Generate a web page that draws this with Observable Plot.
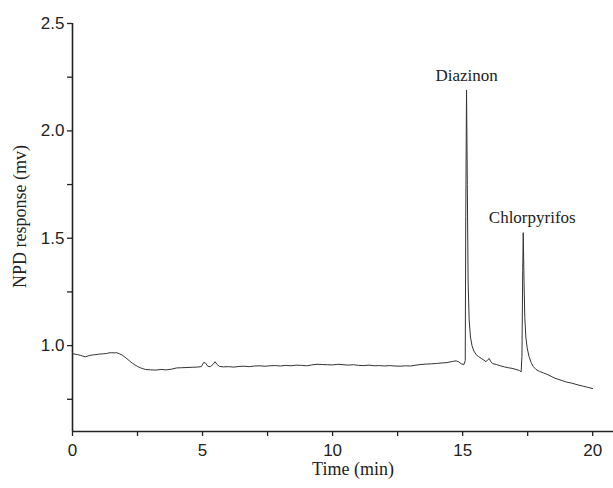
<!DOCTYPE html>
<html><head><meta charset="utf-8">
<script src="https://cdn.jsdelivr.net/npm/d3@7"></script>
<script src="https://cdn.jsdelivr.net/npm/@observablehq/plot@0.6"></script>
<style>body{margin:0;background:#fff}</style>
</head><body><div id="chart"></div>
<script>
const time = [0.00,0.10,0.20,0.30,0.40,0.50,0.60,0.70,0.80,0.90,1.00,1.10,1.20,1.30,1.40,1.50,1.60,1.70,1.80,1.90,2.00,2.10,2.20,2.30,2.40,2.50,2.60,2.70,2.80,2.90,3.00,3.20,3.40,3.60,3.80,4.00,4.20,4.40,4.60,4.80,4.95,5.05,5.12,5.20,5.30,5.40,5.48,5.56,5.65,5.80,6.00,6.20,6.40,6.60,6.80,7.00,7.20,7.40,7.60,7.80,8.00,8.20,8.40,8.60,8.80,9.00,9.20,9.40,9.60,9.80,10.0,10.2,10.4,10.6,10.8,11.0,11.2,11.4,11.6,11.8,12.0,12.2,12.4,12.6,12.8,13.0,13.2,13.4,13.6,13.8,14.0,14.2,14.4,14.6,14.75,14.85,14.95,15.05,15.10,15.12,15.15,15.18,15.21,15.25,15.30,15.36,15.43,15.52,15.62,15.72,15.82,15.90,15.97,16.02,16.08,16.15,16.30,16.45,16.60,16.75,16.90,17.05,17.18,17.25,17.28,17.31,17.33,17.36,17.39,17.43,17.48,17.55,17.63,17.72,17.82,17.95,18.10,18.25,18.40,18.55,18.70,18.85,19.00,19.20,19.40,19.60,19.80,20.00];
const response = [0.962,0.960,0.958,0.955,0.951,0.948,0.952,0.955,0.957,0.958,0.960,0.961,0.962,0.963,0.966,0.967,0.966,0.967,0.962,0.957,0.948,0.938,0.928,0.918,0.910,0.903,0.897,0.893,0.889,0.888,0.887,0.886,0.889,0.887,0.890,0.896,0.897,0.898,0.899,0.900,0.902,0.922,0.918,0.904,0.902,0.912,0.925,0.912,0.903,0.901,0.902,0.900,0.903,0.904,0.902,0.905,0.906,0.904,0.906,0.907,0.905,0.908,0.906,0.909,0.908,0.906,0.910,0.913,0.912,0.911,0.910,0.913,0.911,0.909,0.911,0.908,0.907,0.909,0.906,0.907,0.905,0.907,0.905,0.904,0.906,0.905,0.909,0.912,0.914,0.915,0.917,0.919,0.921,0.926,0.929,0.924,0.915,0.912,0.930,1.600,2.190,1.750,1.300,1.120,1.040,1.000,0.975,0.958,0.948,0.940,0.932,0.925,0.935,0.940,0.926,0.916,0.912,0.906,0.901,0.897,0.894,0.889,0.884,0.878,0.950,1.350,1.526,1.300,1.130,1.040,0.990,0.950,0.922,0.902,0.889,0.880,0.873,0.866,0.857,0.848,0.842,0.836,0.830,0.825,0.818,0.812,0.806,0.800];

const peakNames = ["Diazinon", "Chlorpyrifos"];
const peakTimes = [15.15, 17.33];
const peakHeights = [2.19, 1.526];

const xTicks = [0, 2.5, 5, 7.5, 10, 12.5, 15, 17.5, 20];
const xLabels = [0, 5, 10, 15, 20];
const yTicks = [0.75, 1.0, 1.25, 1.5, 1.75, 2.0, 2.25, 2.5];
const yLabels = [1.0, 1.5, 2.0, 2.5];
const xTitle = "Time (min)";
const yTitle = "NPD response (mv)";

const data = time.map((t, i) => ({t, v: response[i]}));
const peaks = peakNames.map((n, i) => ({name: n, t: peakTimes[i], v: peakHeights[i]}));
const serif = "'Liberation Serif', 'Times New Roman', serif";

const chart = Plot.plot({
  width: 613, height: 488,
  marginLeft: 72, marginRight: 0, marginTop: 23, marginBottom: 57,
  style: {fontFamily: "'Liberation Sans', Arial, sans-serif", fontSize: "17px", color: "#222", background: "#fff"},
  x: {domain: [0, 20.8]},
  y: {domain: [0.6, 2.5]},
  marks: [
    Plot.axisX({ticks: xTicks, tickSize: 5, tickPadding: 7, strokeWidth: 1.3, label: null, fontSize: 17,
      tickFormat: d => xLabels.includes(d) ? String(d) : ""}),
    Plot.axisY({ticks: yTicks, tickSize: 5, tickPadding: 3, strokeWidth: 1.3, label: null, fontSize: 17,
      tickFormat: d => yLabels.includes(d) ? d.toFixed(1) : ""}),
    Plot.ruleX([0], {stroke: "#222", strokeWidth: 1.6}),
    Plot.ruleY([0.6], {stroke: "#222", strokeWidth: 1.6}),
    Plot.line(data, {x: "t", y: "v", stroke: "#333", strokeWidth: 1}),
    Plot.text(peaks.slice(0, 1), {x: "t", y: "v", text: "name", dy: -15, fontFamily: serif, fontSize: 17, fill: "#222"}),
    Plot.text(peaks.slice(1), {x: "t", y: "v", text: "name", dx: 9, dy: -15, fontFamily: serif, fontSize: 17, fill: "#222"}),
    Plot.text([xTitle], {frameAnchor: "bottom", lineAnchor: "middle", dx: 10, dy: 38, fontFamily: serif, fontSize: 18, fill: "#222"}),
    Plot.text([yTitle], {frameAnchor: "left", textAnchor: "middle", lineAnchor: "middle", rotate: -90, dx: -52, dy: -11, fontFamily: serif, fontSize: 18, fill: "#222"})
  ]
});
document.getElementById("chart").appendChild(chart);
</script>
</body></html>
